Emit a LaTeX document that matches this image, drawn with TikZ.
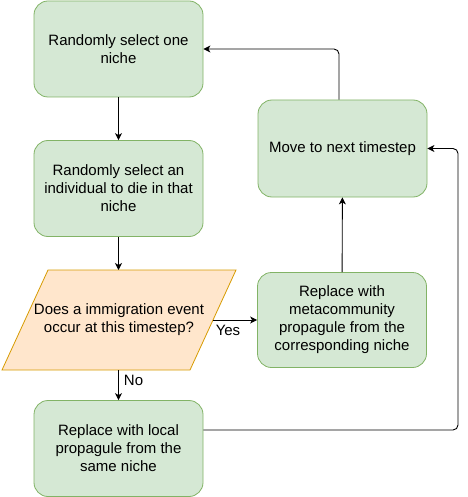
\documentclass[tikz,border=0pt]{standalone}
\usepackage{fontspec}
\setmainfont{Liberation Sans}
\usetikzlibrary{arrows.meta}
\definecolor{gfill}{HTML}{D5E8D4}
\definecolor{gline}{HTML}{82B366}
\definecolor{ofill}{HTML}{FFE6CC}
\definecolor{oline}{HTML}{D79B00}
\begin{document}
\begin{tikzpicture}[x=1pt,y=-1pt,
  box/.style={draw=gline, fill=gfill, rounded corners=14pt, minimum width=169pt, minimum height=96pt, align=center, font=\fontsize{15}{18}\selectfont, inner sep=0pt, line width=0.8pt},
  conn/.style={draw, line width=0.9pt, -{Stealth[length=7pt,width=7pt,inset=2pt]}, rounded corners=5pt},
  lbl/.style={font=\fontsize{15}{18}\selectfont, inner sep=0pt}]
\useasboundingbox (0,0) rectangle (467,497);
\node[box] (b1) at (118.5,49) {Randomly select one\\niche};
\node[box] (b2) at (118.5,188.5) {Randomly select an\\individual to die in that\\niche};
\node[box] (b4) at (118.5,448.5) {Replace with local\\propagule from the\\same niche};
\node[box, minimum height=97pt] (mv) at (342.5,148.5) {Move to next timestep};
\node[box, minimum height=95pt] (rm) at (342,320) {Replace with\\metacommunity\\propagule from the\\corresponding niche};
\draw[draw=oline, fill=ofill, line width=0.8pt] (48,270) -- (236,270) -- (190,370) -- (2,370) -- cycle;
\node[lbl, align=center] (dec) at (119,320) {Does a immigration event\\occur at this timestep?};
\coordinate (decT) at (118.5,270);
\coordinate (decB) at (118.5,370);
\coordinate (decR) at (213,320);
\coordinate (rt) at (458,430);
\draw[conn] (b1) -- (b2);
\draw[conn] (b2) -- (decT);
\draw[conn] (decB) -- node[lbl, pos=0.33, anchor=west, xshift=5pt] {No} (b4);
\draw[conn] (decR) -- node[lbl, pos=0.34, yshift=-10pt] {Yes} (rm.west);
\draw[conn] (rm) -- (mv);
\draw[conn] ([xshift=-3.5pt]mv.north) |- (b1.east);
\draw[conn] ([yshift=18.5pt]b4.east) -- (rt) |- (mv.east);
\end{tikzpicture}
\end{document}
